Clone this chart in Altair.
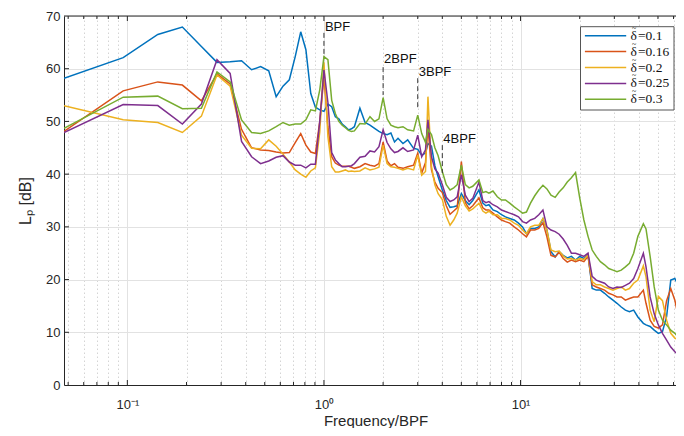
import altair as alt
import pandas as pd

# ---------------- data ----------------
BPF_BIN = 21  # spectral bin of the blade passing frequency (f/BPF = bin / 21)

BINS_A = list(range(1, 31))
BINS_B = [32, 34, 36, 38, 40, 42, 44, 46, 48, 50, 53, 56, 60, 63, 66, 69, 71, 74, 77, 80, 84, 88]
BINS_C = [92, 96, 100, 105, 110, 115, 120, 129, 135, 140, 145, 152, 160, 168, 176, 185, 195, 205,
          215, 225, 236, 248, 260, 273, 286, 300, 315, 330, 346, 363]
BINS_D = [381, 400, 420, 441, 463, 486, 510, 535, 562, 590, 620, 650, 683, 717, 752, 790, 830, 885,
          913, 958, 1005, 1055, 1107, 1162, 1220, 1280, 1343, 1424]

LP_010 = [58.2, 62.1, 66.5, 67.9, 64.2, 61.2, 61.3, 61.5, 59.8, 60.4, 59.6, 54.7, 56.7, 57.9, 62.3,
          67.0, 63.6, 55.3, 52.7, 52.2, 51.9, 53.3, 52.8, 50.9, 50.5, 49.5, 49.0, 48.4, 48.6, 49.0,
          52.5, 49.8, 49.3, 48.7, 48.1, 47.7, 47.5, 47.8, 46.1, 46.8, 45.8, 46.5, 44.9, 44.7, 43.6,
          44.0, 45.8, 45.3, 41.6, 39.5, 37.0, 35.0,
          33.7, 33.8, 34.0, 36.3, 35.0, 34.2, 35.0, 37.0, 34.5, 34.0, 34.2, 33.2, 32.9, 32.3, 31.9,
          31.6, 31.3, 30.7, 30.0, 28.7, 29.7, 29.7, 30.0, 31.5, 29.4, 25.3, 24.3, 25.3, 24.6, 24.1,
          24.4, 23.7, 24.4, 24.0, 24.7, 18.3, 18.0, 18.0, 17.4, 16.7, 16.1, 15.5, 14.8, 14.2, 13.9,
          14.2, 12.9, 11.7, 11.4, 11.1, 10.4, 9.8, 10.1, 13.0, 19.9, 20.2, 18.6, 14.2]

LP_016 = [48.1, 55.8, 57.5, 56.9, 53.9, 59.0, 57.1, 48.5, 45.0, 44.6, 44.5, 44.2, 44.0, 44.1, 46.0,
          47.7, 45.5, 44.2, 43.9, 50.0, 58.5, 49.0, 43.3, 42.1, 41.7, 41.5, 41.5, 41.5, 41.3, 41.1,
          41.4, 42.0, 41.7, 41.5, 42.0, 46.1, 42.5, 41.6, 42.0, 41.3, 41.1, 41.4, 41.7, 44.0, 40.2,
          42.2, 49.0, 40.8, 38.5, 37.3, 36.5, 34.0,
          32.4, 33.0, 33.6, 42.4, 34.6, 33.4, 34.0, 35.5, 33.6, 33.2, 33.2, 32.6, 31.9, 31.3, 31.0,
          30.7, 30.0, 29.4, 28.7, 28.1, 29.4, 29.4, 29.7, 30.8, 28.1, 24.6, 24.3, 25.2, 24.0, 23.3,
          23.7, 23.4, 23.7, 23.4, 24.4, 19.0, 18.6, 18.3, 18.0, 17.4, 17.1, 16.7, 16.7, 16.1, 16.4,
          16.7, 16.7, 18.0, 15.5, 12.3, 11.1, 10.8, 11.4, 16.0, 18.3, 16.1, 12.3, 11.4]

LP_020 = [53.0, 50.3, 49.8, 47.9, 51.0, 58.8, 56.7, 47.4, 44.9, 44.8, 46.5, 45.3, 43.8, 42.3, 40.8,
          40.0, 39.4, 40.6, 41.2, 48.0, 61.2, 47.1, 41.4, 40.4, 40.4, 40.6, 40.8, 40.5, 40.6, 40.5,
          40.6, 41.2, 40.8, 41.0, 41.3, 45.5, 42.0, 41.4, 41.3, 41.1, 40.8, 41.1, 40.8, 43.6, 39.8,
          40.5, 54.7, 41.4, 38.0, 36.3, 35.2, 32.0,
          30.3, 31.3, 32.6, 35.7, 34.0, 33.0, 33.4, 34.5, 33.0, 32.6, 33.0, 32.3, 32.3, 31.6, 31.6,
          31.3, 30.7, 30.3, 29.4, 28.7, 30.0, 30.3, 30.3, 31.6, 29.4, 25.6, 25.3, 25.4, 24.5, 23.9,
          24.0, 23.7, 24.0, 23.8, 24.7, 19.6, 19.0, 19.0, 18.6, 18.3, 18.0, 18.3, 18.6, 18.0, 18.3,
          19.3, 19.9, 22.6, 20.5, 14.2, 12.0, 16.8, 16.0, 12.3, 9.8, 8.9, 8.5, 8.2]

LP_025 = [47.9, 53.2, 53.0, 49.5, 53.3, 61.7, 59.1, 46.2, 43.3, 42.0, 42.5, 43.2, 43.5, 42.3, 41.7,
          41.7, 41.2, 41.9, 41.9, 50.0, 59.8, 53.6, 44.1, 42.7, 42.0, 41.4, 41.4, 41.5, 41.6, 42.0,
          43.2, 43.4, 44.4, 44.2, 45.2, 48.4, 46.0, 44.8, 44.1, 44.3, 45.0, 44.3, 44.6, 47.4, 43.3,
          44.6, 50.3, 43.3, 41.0, 40.2, 38.0, 35.6,
          34.8, 35.1, 35.7, 39.9, 36.0, 34.8, 35.4, 38.5, 35.0, 34.6, 34.8, 34.2, 33.8, 33.2, 32.9,
          32.6, 32.3, 31.9, 31.0, 30.7, 31.3, 31.6, 32.3, 33.2, 30.0, 29.4, 29.1, 28.6, 27.7, 26.5,
          25.0, 25.0, 24.7, 24.4, 25.0, 20.6, 19.9, 19.6, 19.3, 18.6, 18.3, 18.6, 18.5, 18.9, 19.3,
          20.2, 22.1, 25.0, 22.4, 16.7, 13.5, 11.4, 9.8, 8.5, 7.2, 6.3, 5.6, 4.7]

LP_030 = [48.7, 54.6, 54.8, 52.4, 52.5, 59.4, 57.5, 50.3, 47.9, 47.7, 48.2, 49.0, 49.8, 49.3, 49.5,
          49.5, 50.3, 52.2, 52.0, 56.0, 62.3, 61.7, 54.0, 51.5, 50.0, 49.3, 48.8, 48.3, 48.1, 48.2,
          49.6, 49.5, 50.9, 50.0, 50.5, 54.5, 50.5, 49.3, 49.0, 48.8, 49.0, 48.4, 48.2, 51.2, 47.7,
          46.0, 48.5, 47.5, 45.0, 43.5, 40.5, 38.0,
          37.0, 37.4, 38.0, 41.7, 38.0, 37.4, 37.7, 38.9, 36.5, 36.7, 36.4, 36.8, 35.7, 35.1, 35.1,
          34.5, 33.8, 33.2, 32.6, 32.8, 34.5, 35.9, 37.0, 37.9, 37.2, 36.0, 35.6, 36.6, 37.4, 38.5,
          39.3, 40.3, 35.5, 31.3, 28.2, 25.6, 24.4, 23.4, 22.8, 22.1, 21.8, 21.5, 21.8, 22.4, 23.1,
          25.0, 28.2, 30.6, 29.6, 24.4, 18.6, 14.2, 12.3, 11.4, 10.4, 9.8, 8.9, 8.5]

DELTA, TILDE = "\u03b4", "~"
CASE_VALUES = ["0.1", "0.16", "0.2", "0.25", "0.3"]
CASES = [DELTA + "\u0303=" + v for v in CASE_VALUES]
COLORS = ["#0072BD", "#D95319", "#EDB120", "#7E2F8E", "#77AC30"]
SERIES = [LP_010, LP_016, LP_020, LP_025, LP_030]

X_MIN, X_MAX = 1 / 21, 61.77
Y_MIN, Y_MAX = 0, 70
X_MAJOR = [0.1, 1, 10]
X_MINOR = [0.05, 0.06, 0.07, 0.08, 0.09, 0.2, 0.3, 0.4, 0.5, 0.6, 0.7, 0.8, 0.9,
           2, 3, 4, 5, 6, 7, 8, 9, 20, 30, 40, 50, 60]
Y_TICKS = [0, 10, 20, 30, 40, 50, 60, 70]

ANN_LABELS = ["BPF", "2BPF", "3BPF", "4BPF"]
ANN_F = [1, 2, 3, 4]
ANN_TEXT_DB = [67.2, 61.0, 58.7, 46.0]
ANN_TOP_DB = [66.8, 60.3, 58.2, 45.5]
ANN_BOT_DB = [62.2, 55.0, 52.7, 40.2]

# ---------------- layout / style ----------------
W, H = 612, 369
SANS = "Liberation Sans"
SERIF = "Liberation Serif"
AX = "#262626"

BINS = BINS_A + BINS_B + BINS_C + BINS_D
rows = []
for case, vals in zip(CASES, SERIES):
    assert len(vals) == len(BINS), (case, len(vals), len(BINS))
    for b, v in zip(BINS, vals):
        rows.append({"f": b / BPF_BIN, "Lp": v, "case": case})
df = pd.DataFrame(rows)

x_scale = alt.Scale(type="log", domain=[X_MIN, X_MAX], nice=False)
y_scale = alt.Scale(domain=[Y_MIN, Y_MAX], nice=False, zero=False)
color_scale = alt.Scale(domain=CASES, range=COLORS)

major_test = "indexof([0.1, 1, 10], datum.value) >= 0"
x_axis = alt.Axis(
    values=sorted(X_MAJOR + X_MINOR),
    labelExpr="datum.value == 0.1 ? '10\u207b\u00b9' : datum.value == 1 ? '10\u2070' : datum.value == 10 ? '10\u00b9' : ''",
    labelOverlap=False, labelFlush=False,
    grid=True,
    gridColor={"condition": {"test": major_test, "value": "#e2e2e2"}, "value": "#d4d4d4"},
    gridDash={"condition": {"test": major_test, "value": []}, "value": [1.5, 2.5]},
    ticks=False, domainColor=AX,
    labelFont=SANS, labelFontSize=13, labelColor=AX, labelPadding=13.5,
    title="Frequency/BPF", titleFont=SANS, titleFontSize=15, titleFontWeight="normal",
    titleColor=AX, titleX=311.5, titleY=40, titleBaseline="alphabetic",
)
y_axis = alt.Axis(
    values=Y_TICKS, grid=True, gridColor="#e2e2e2", ticks=False, domainColor=AX,
    labelFont=SANS, labelFontSize=13, labelColor=AX, labelPadding=4,
    title="L\u209a [dB]", titleFont=SANS, titleFontSize=16, titleFontWeight="normal",
    titleColor=AX, titleX=-34, titleY=184.5, titleBaseline="alphabetic",
)


def xenc():
    return alt.X("f:Q", scale=x_scale, axis=x_axis)


def yenc(field="Lp"):
    return alt.Y(f"{field}:Q", scale=y_scale, axis=y_axis)


lines = [
    alt.Chart(df[df["case"] == c]).mark_line(strokeWidth=1.5, clip=True).encode(
        x=xenc(), y=yenc(),
        color=alt.Color("case:N", scale=color_scale, legend=None),
    )
    for c in CASES
]

ann = pd.DataFrame({"label": ANN_LABELS, "f": ANN_F, "ty": ANN_TEXT_DB,
                    "y1": ANN_TOP_DB, "y2": ANN_BOT_DB})
ann_rules = alt.Chart(ann).mark_rule(strokeDash=[5, 3], color="#333333", strokeWidth=1).encode(
    x=xenc(), y=yenc("y1"), y2="y2:Q")
ann_text = alt.Chart(ann).mark_text(align="left", baseline="alphabetic", dx=1, font=SANS,
                                    fontSize=13, color="#111111").encode(
    x=xenc(), y=yenc("ty"), text="label:N")

# inward ticks (MATLAB style)
maj = pd.DataFrame({"f": X_MAJOR})
mnr = pd.DataFrame({"f": X_MINOR})
ticks = [
    alt.Chart(maj).mark_rule(color=AX).encode(x=xenc(), y=alt.value(H), y2=alt.value(H - 5)),
    alt.Chart(mnr).mark_rule(color=AX).encode(x=xenc(), y=alt.value(H), y2=alt.value(H - 3)),
    alt.Chart(maj).mark_rule(color=AX).encode(x=xenc(), y=alt.value(0), y2=alt.value(5)),
    alt.Chart(mnr).mark_rule(color=AX).encode(x=xenc(), y=alt.value(0), y2=alt.value(3)),
    alt.Chart(pd.DataFrame({"Lp": Y_TICKS[1:-1]})).mark_rule(color=AX).encode(
        y=yenc(), x=alt.value(0), x2=alt.value(5)),
]
top_border = alt.Chart(pd.DataFrame({"a": [0]})).mark_rule(color=AX).encode(
    x=alt.value(0), x2=alt.value(W), y=alt.value(0))

main = alt.layer(*lines, ann_rules, ann_text, *ticks, top_border)

# legend (box + entries), placed in plot pixel coordinates
LEG_X0, LEG_X1, LEG_Y0, LEG_Y1 = 516.5, 610.0, 10.7, 94.0
leg = pd.DataFrame({"case": CASES,
                    "sym": [DELTA] * len(CASES),
                    "acc": [TILDE] * len(CASES),
                    "val": ["=" + v for v in CASE_VALUES]})
leg_y = alt.Y("case:N", scale=alt.Scale(type="point", domain=CASES, range=[19.7, 83.3], padding=0),
              axis=None)
leg_box = alt.Chart(pd.DataFrame({"a": [0]})).mark_rect(
    fill="white", stroke="#555555", strokeWidth=1).encode(
    x=alt.value(LEG_X0), x2=alt.value(LEG_X1), y=alt.value(LEG_Y0), y2=alt.value(LEG_Y1))
leg_sym = alt.Chart(leg).mark_rule(strokeWidth=1.5).encode(
    x=alt.value(LEG_X0 + 4.4), x2=alt.value(LEG_X0 + 45.7), y=leg_y,
    color=alt.Color("case:N", scale=color_scale, legend=None))
leg_delta = alt.Chart(leg).mark_text(align="left", baseline="middle", font=SERIF,
                                     fontSize=13.5, color="#111111").encode(
    x=alt.value(LEG_X0 + 50), y=leg_y, text="sym:N")
leg_tilde = alt.Chart(leg).mark_text(align="center", baseline="alphabetic", font=SERIF,
                                     fontSize=8, dy=-5, color="#111111").encode(
    x=alt.value(LEG_X0 + 53.6), y=leg_y, text="acc:N")
leg_val = alt.Chart(leg).mark_text(align="left", baseline="middle", font=SERIF, fontSize=13.5,
                                   color="#111111").encode(
    x=alt.value(LEG_X0 + 57.5), y=leg_y, text="val:N")
legend = alt.layer(leg_box, leg_sym, leg_delta, leg_tilde, leg_val)

chart = alt.layer(main, legend).resolve_scale(y="independent").properties(
    width=W, height=H,
    autosize=alt.AutoSizeParams(type="none"),
    padding={"left": 56, "top": 8, "right": 0, "bottom": 43},
).configure_view(stroke=None).configure(background="white")

chart.save("out.html", embed_options={"renderer": "svg", "actions": False})
